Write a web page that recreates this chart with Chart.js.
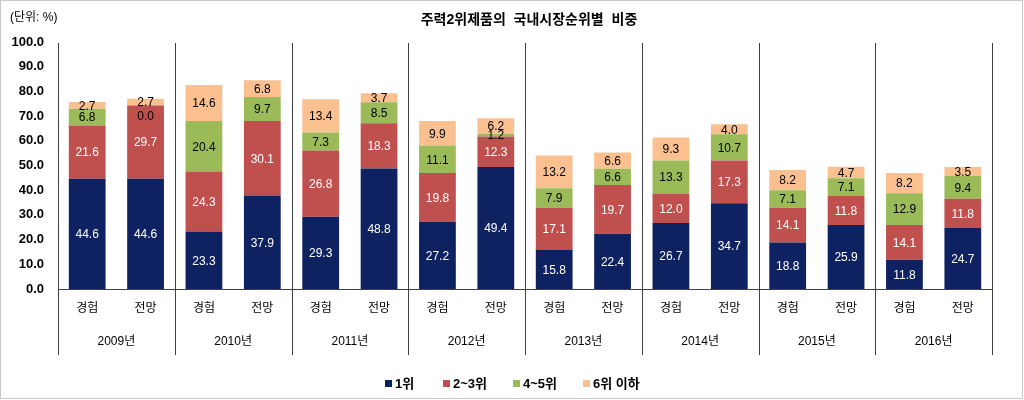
<!DOCTYPE html>
<html>
<head>
<meta charset="utf-8">
<script src="https://cdn.jsdelivr.net/npm/chart.js@4"></script>
<style>
  html, body { margin: 0; padding: 0; background: #fff; }
  #wrap { width: 1024px; height: 400px; position: relative; }
</style>
</head>
<body>
<div id="wrap"><canvas id="rankChart" width="1024" height="400"></canvas></div>
<script>
// Chart data
const years = ['2009년', '2010년', '2011년', '2012년', '2013년', '2014년', '2015년', '2016년'];
const kinds = ['경험', '전망'];
const seriesNames = ['1위', '2~3위', '4~5위', '6위 이하'];
const rank1 = [44.6, 44.6, 23.3, 37.9, 29.3, 48.8, 27.2, 49.4, 15.8, 22.4, 26.7, 34.7, 18.8, 25.9, 11.8, 24.7];
const rank2to3 = [21.6, 29.7, 24.3, 30.1, 26.8, 18.3, 19.8, 12.3, 17.1, 19.7, 12.0, 17.3, 14.1, 11.8, 14.1, 11.8];
const rank4to5 = [6.8, 0.0, 20.4, 9.7, 7.3, 8.5, 11.1, 1.2, 7.9, 6.6, 13.3, 10.7, 7.1, 7.1, 12.9, 9.4];
const rank6plus = [2.7, 2.7, 14.6, 6.8, 13.4, 3.7, 9.9, 6.2, 13.2, 6.6, 9.3, 4.0, 8.2, 4.7, 8.2, 3.5];
const yTicks = [0, 10, 20, 30, 40, 50, 60, 70, 80, 90, 100];

const colors = ['#0E2262', '#C0504D', '#9BBB59', '#FAC090'];
const labelColors = ['#ffffff', '#ffffff', '#000000', '#000000'];
const FONT = "'Liberation Sans', 'Noto Sans CJK KR', sans-serif";

const labels = [];
years.forEach(() => kinds.forEach(k => labels.push(k)));

const allSeries = [rank1, rank2to3, rank4to5, rank6plus];

// draws the value labels, year groups, title and legend
const decorPlugin = {
    id: 'decor',
    afterDatasetsDraw(chart) {
        const ctx = chart.ctx;
        const area = chart.chartArea;
        const x = chart.scales.x;

        ctx.save();
        // values inside segments (a zero segment gets its label just under the top edge)
        ctx.font = '12px ' + FONT;
        ctx.textAlign = 'center';
        ctx.textBaseline = 'middle';
        chart.data.datasets.forEach((ds, di) => {
            const meta = chart.getDatasetMeta(di);
            meta.data.forEach((bar, i) => {
                const top = bar.y, bottom = bar.base;
                let ty = (top + bottom) / 2 + 1;
                if (ds.data[i] === 0) ty = top + 11;
                ctx.fillStyle = labelColors[di];
                ctx.fillText(ds.data[i].toFixed(1), bar.x, ty);
            });
        });

        // axis line and group separators
        ctx.strokeStyle = '#404040';
        ctx.lineWidth = 1;
        ctx.beginPath();
        ctx.moveTo(area.left, Math.round(area.bottom) + 0.5);
        ctx.lineTo(area.right, Math.round(area.bottom) + 0.5);
        for (let g = 0; g <= years.length; g++) {
            let px;
            if (g === 0) px = area.left;
            else if (g === years.length) px = area.right;
            else px = (x.getPixelForValue(g * 2 - 1) + x.getPixelForValue(g * 2)) / 2;
            px = Math.round(px) + 0.5;
            ctx.moveTo(px, area.top + 1);
            ctx.lineTo(px, 355);
        }
        ctx.stroke();

        // year labels
        ctx.fillStyle = '#000';
        ctx.font = '12px ' + FONT;
        years.forEach((y, g) => {
            const cx = (x.getPixelForValue(g * 2) + x.getPixelForValue(g * 2 + 1)) / 2;
            ctx.fillText(y, cx, 342);
        });

        // title and unit
        ctx.font = 'bold 14px ' + FONT;
        ctx.fillText('주력2위제품의  국내시장순위별  비중', 529, 20);
        ctx.font = '12px ' + FONT;
        ctx.textAlign = 'left';
        ctx.fillText('(단위: %)', 10, 18);

        // legend
        const legendX = [385, 443, 513, 583];
        ctx.font = 'bold 13px ' + FONT;
        seriesNames.forEach((name, i) => {
            ctx.fillStyle = colors[i];
            ctx.fillRect(legendX[i], 380, 7, 7);
            ctx.fillStyle = '#000';
            ctx.fillText(name, legendX[i] + 10, 384);
        });

        // frame
        ctx.strokeStyle = '#c8c8c8';
        ctx.strokeRect(0.5, 0.5, 1022, 398);
        ctx.restore();
    }
};

const ctx = document.getElementById('rankChart');
new Chart(ctx, {
    type: 'bar',
    data: {
        labels: labels,
        datasets: allSeries.map((d, i) => ({
            label: seriesNames[i],
            data: d,
            backgroundColor: colors[i],
            borderWidth: 0,
            categoryPercentage: 1.0,
            barPercentage: 0.63
        }))
    },
    options: {
        responsive: false,
        animation: false,
        layout: { padding: { left: 0, right: 32, top: 42, bottom: 0 } },
        plugins: {
            legend: { display: false },
            tooltip: { enabled: false }
        },
        scales: {
            x: {
                stacked: true,
                grid: { display: false, drawTicks: false },
                border: { display: false },
                ticks: { color: '#000', font: { family: FONT, size: 12 }, padding: 12 },
                afterFit: s => { s.height = 111; }
            },
            y: {
                stacked: true,
                min: 0,
                max: 100,
                afterBuildTicks: s => { s.ticks = yTicks.map(v => ({ value: v })); },
                grid: { display: false, drawTicks: false },
                border: { display: false },
                ticks: {
                    color: '#000',
                    font: { family: FONT, size: 13, weight: 'bold' },
                    padding: 14,
                    callback: v => Number(v).toFixed(1)
                },
                afterFit: s => { s.width = 58; }
            }
        }
    },
    plugins: [decorPlugin]
});
</script>
</body>
</html>
